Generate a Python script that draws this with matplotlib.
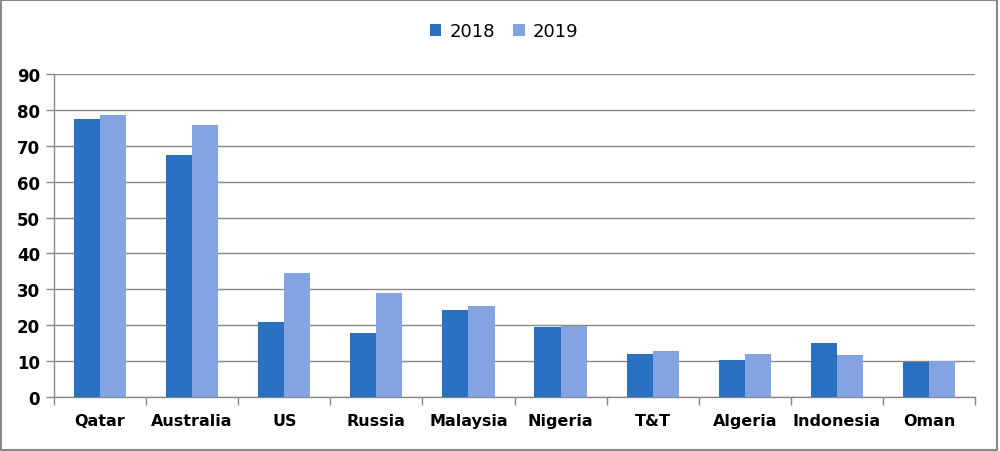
import numpy as np
import matplotlib.pyplot as plt
from matplotlib.patches import Rectangle

countries = ['Qatar', 'Australia', 'US', 'Russia', 'Malaysia', 'Nigeria',
             'T&T', 'Algeria', 'Indonesia', 'Oman']
v2018 = [77.4, 67.4, 20.9, 17.9, 24.3, 19.5, 12.0, 10.4, 15.1, 9.9]
v2019 = [78.5, 75.7, 34.6, 29.0, 25.4, 19.9, 12.9, 12.0, 11.8, 10.1]
yticks = [0, 10, 20, 30, 40, 50, 60, 70, 80, 90]

c18 = '#2A71C4'
c19 = '#82A4E0'
grey = '#898989'

fig = plt.figure(figsize=(10, 4.52), dpi=100)
ax = fig.add_axes([0.054, 0.1188, 0.921, 0.716])

x = np.arange(len(countries))
w = 0.283
ax.bar(x - w / 2, v2018, w, color=c18, label='2018', zorder=3)
ax.bar(x + w / 2, v2019, w, color=c19, label='2019', zorder=3)

ax.set_xlim(-0.5, len(countries) - 0.5)
ax.set_ylim(0, 90)
ax.set_yticks(yticks)
ax.set_yticklabels([str(t) for t in yticks], fontsize=12, fontweight='bold',
                   family='DejaVu Sans')
ax.grid(axis='y', color=grey, linewidth=1, zorder=0)

# category labels centered, ticks on boundaries
ax.set_xticks(x)
ax.set_xticklabels(countries, fontsize=11.5, fontweight='bold', family='DejaVu Sans')
ax.tick_params(axis='x', which='major', length=0, pad=11)
ax.set_xticks(np.arange(-0.5, len(countries) + 0.5, 1), minor=True)
ax.tick_params(axis='x', which='minor', length=6, color=grey, width=1)
ax.tick_params(axis='y', length=6, color=grey, width=1, pad=4)

for s in ['top', 'right']:
    ax.spines[s].set_visible(False)
for s in ['left', 'bottom']:
    ax.spines[s].set_color(grey)
    ax.spines[s].set_linewidth(1)

fig.legend(loc='center', bbox_to_anchor=(0.504, 0.929), ncol=2, frameon=False,
           fontsize=13, handlelength=0.65, handleheight=0.65, handletextpad=0.45,
           columnspacing=1.0)

fig.patches.append(Rectangle((0.001, 0.002), 0.996, 0.996, transform=fig.transFigure,
                             fill=False, edgecolor=grey, linewidth=1.5))

fig.savefig('out.png', dpi=100)
